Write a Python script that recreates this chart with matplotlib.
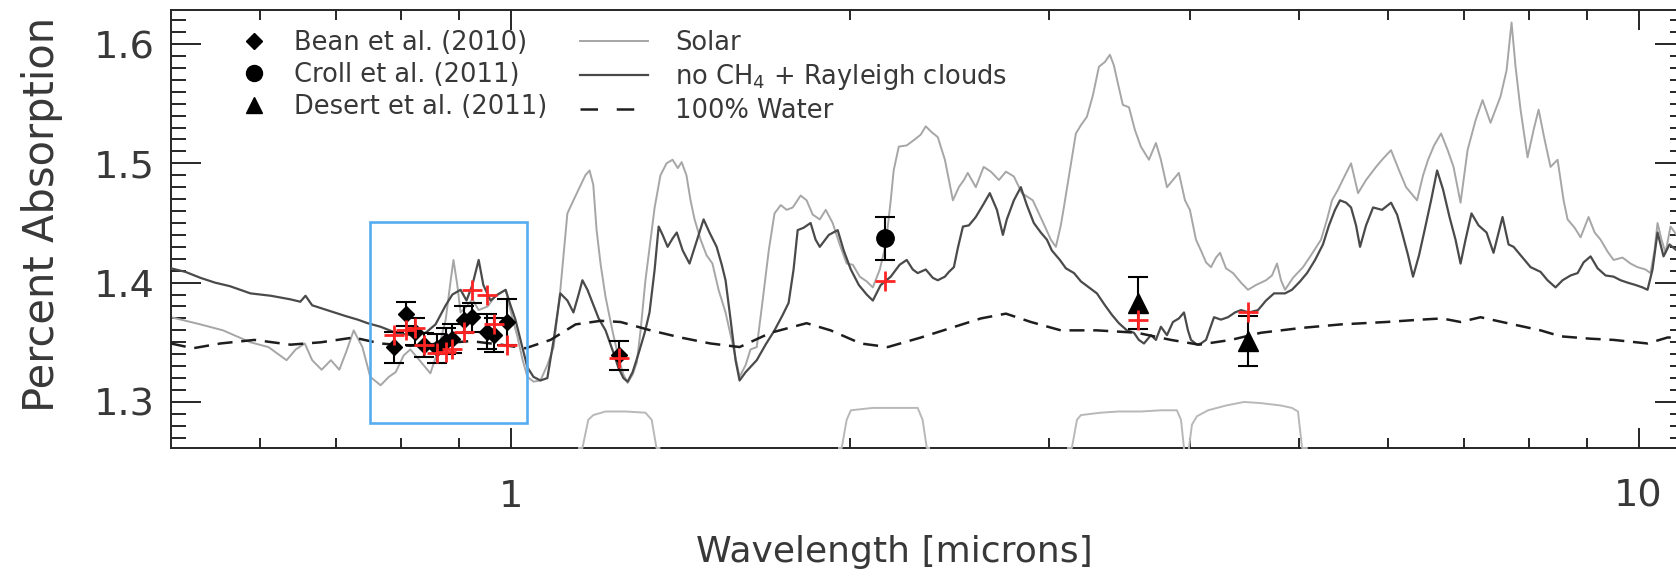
import matplotlib
matplotlib.use("Agg")
import matplotlib.pyplot as plt
from matplotlib.lines import Line2D
from matplotlib.patches import Rectangle
from matplotlib.ticker import (FixedLocator, FixedFormatter, MultipleLocator,
                               NullFormatter, FormatStrFormatter)

plt.rcParams['font.family'] = ['DejaVu Sans']

# --- model spectra: wavelength [microns] vs percent absorption ---
solar_wl = [0.500, 0.531, 0.556, 0.588, 0.610, 0.633, 0.645, 0.657, 0.667, 0.680,
            0.693, 0.705, 0.715, 0.726, 0.739, 0.751, 0.767, 0.780, 0.791, 0.804,
            0.815, 0.832, 0.849, 0.863, 0.876, 0.885, 0.890, 0.897, 0.903, 0.916,
            0.925, 0.937, 0.954, 0.970, 0.990, 1.002, 1.014, 1.025, 1.035, 1.048,
            1.063, 1.078, 1.092, 1.107, 1.123, 1.137, 1.149, 1.165, 1.175, 1.184,
            1.192, 1.202, 1.214, 1.231, 1.246, 1.259, 1.270, 1.283, 1.294, 1.304,
            1.317, 1.331, 1.342, 1.358, 1.375, 1.392, 1.407, 1.418, 1.432, 1.444,
            1.456, 1.474, 1.492, 1.510, 1.529, 1.551, 1.574, 1.596, 1.616, 1.632,
            1.653, 1.673, 1.694, 1.714, 1.736, 1.757, 1.779, 1.808, 1.830, 1.853,
            1.880, 1.903, 1.930, 1.958, 1.986, 2.011, 2.040, 2.069, 2.095, 2.125,
            2.151, 2.173, 2.186, 2.209, 2.245, 2.282, 2.310, 2.334, 2.363, 2.392,
            2.427, 2.447, 2.467, 2.497, 2.523, 2.543, 2.585, 2.627, 2.666, 2.710,
            2.749, 2.794, 2.840, 2.904, 2.977, 3.013, 3.044, 3.075, 3.094, 3.132,
            3.171, 3.204, 3.243, 3.283, 3.324, 3.365, 3.399, 3.427, 3.455, 3.490,
            3.534, 3.577, 3.621, 3.681, 3.734, 3.772, 3.819, 3.866, 3.913, 3.962,
            4.002, 4.052, 4.093, 4.136, 4.178, 4.221, 4.256, 4.308, 4.370, 4.442,
            4.506, 4.580, 4.675, 4.732, 4.781, 4.820, 4.860, 4.939, 5.042, 5.125,
            5.230, 5.295, 5.349, 5.415, 5.493, 5.561, 5.641, 5.734, 5.852, 5.937,
            6.034, 6.134, 6.222, 6.363, 6.442, 6.508, 6.588, 6.683, 6.774, 6.855,
            6.954, 7.054, 7.170, 7.273, 7.393, 7.545, 7.639, 7.717, 7.780, 7.860,
            7.973, 8.072, 8.155, 8.255, 8.356, 8.477, 8.582, 8.652, 8.777, 8.885,
            9.031, 9.143, 9.255, 9.388, 9.504, 9.679, 9.838, 9.979, 10.144, 10.248,
            10.332, 10.396, 10.481, 10.567, 10.675, 10.81]
solar_abs = [1.371, 1.365, 1.360, 1.350, 1.346, 1.335, 1.344, 1.349, 1.335, 1.327,
             1.335, 1.327, 1.342, 1.360, 1.346, 1.321, 1.314, 1.321, 1.325, 1.339,
             1.344, 1.334, 1.324, 1.344, 1.369, 1.402, 1.419, 1.398, 1.375, 1.381,
             1.386, 1.377, 1.380, 1.389, 1.394, 1.373, 1.355, 1.335, 1.321, 1.317,
             1.318, 1.331, 1.346, 1.394, 1.458, 1.469, 1.478, 1.490, 1.494, 1.482,
             1.444, 1.415, 1.388, 1.360, 1.338, 1.323, 1.316, 1.323, 1.333, 1.360,
             1.402, 1.436, 1.463, 1.490, 1.500, 1.503, 1.496, 1.501, 1.490, 1.469,
             1.453, 1.436, 1.423, 1.416, 1.394, 1.375, 1.348, 1.321, 1.331, 1.344,
             1.346, 1.385, 1.427, 1.458, 1.465, 1.461, 1.463, 1.473, 1.469, 1.457,
             1.453, 1.461, 1.450, 1.432, 1.416, 1.415, 1.405, 1.401, 1.396, 1.411,
             1.432, 1.469, 1.494, 1.514, 1.515, 1.520, 1.524, 1.531, 1.526, 1.522,
             1.503, 1.486, 1.469, 1.480, 1.486, 1.492, 1.480, 1.497, 1.493, 1.486,
             1.493, 1.489, 1.475, 1.469, 1.447, 1.436, 1.430, 1.448, 1.463, 1.494,
             1.525, 1.532, 1.539, 1.557, 1.581, 1.585, 1.591, 1.582, 1.567, 1.549,
             1.547, 1.528, 1.514, 1.503, 1.517, 1.503, 1.480, 1.486, 1.492, 1.469,
             1.461, 1.436, 1.427, 1.417, 1.413, 1.421, 1.425, 1.412, 1.408, 1.400,
             1.394, 1.398, 1.402, 1.406, 1.416, 1.402, 1.394, 1.404, 1.413, 1.423,
             1.436, 1.453, 1.469, 1.478, 1.490, 1.500, 1.475, 1.486, 1.497, 1.504,
             1.511, 1.494, 1.480, 1.469, 1.490, 1.503, 1.515, 1.525, 1.511, 1.497,
             1.467, 1.511, 1.536, 1.553, 1.534, 1.556, 1.578, 1.618, 1.581, 1.545,
             1.505, 1.528, 1.545, 1.520, 1.497, 1.503, 1.469, 1.453, 1.446, 1.438,
             1.455, 1.442, 1.436, 1.426, 1.419, 1.421, 1.416, 1.413, 1.411, 1.408,
             1.427, 1.450, 1.436, 1.425, 1.447, 1.440]

noch4_wl = [0.500, 0.515, 0.531, 0.547, 0.564, 0.588, 0.613, 0.638, 0.651, 0.658,
            0.667, 0.693, 0.714, 0.732, 0.747, 0.767, 0.791, 0.815, 0.841, 0.858,
            0.876, 0.888, 0.903, 0.914, 0.925, 0.937, 0.946, 0.960, 0.974, 0.990,
            1.000, 1.010, 1.023, 1.035, 1.048, 1.063, 1.078, 1.092, 1.107, 1.123,
            1.137, 1.149, 1.158, 1.170, 1.180, 1.197, 1.214, 1.234, 1.246, 1.259,
            1.270, 1.283, 1.299, 1.315, 1.328, 1.342, 1.353, 1.364, 1.378, 1.392,
            1.404, 1.421, 1.441, 1.459, 1.483, 1.501, 1.523, 1.539, 1.551, 1.567,
            1.583, 1.596, 1.616, 1.653, 1.683, 1.714, 1.743, 1.764, 1.782, 1.797,
            1.819, 1.845, 1.864, 1.880, 1.915, 1.950, 1.974, 2.003, 2.036, 2.069,
            2.095, 2.129, 2.173, 2.213, 2.245, 2.273, 2.296, 2.334, 2.368, 2.392,
            2.427, 2.447, 2.472, 2.492, 2.518, 2.549, 2.585, 2.623, 2.660, 2.699,
            2.732, 2.754, 2.794, 2.834, 2.869, 2.910, 2.952, 2.989, 3.019, 3.069,
            3.107, 3.159, 3.204, 3.256, 3.310, 3.365, 3.413, 3.462, 3.519, 3.570,
            3.606, 3.644, 3.696, 3.734, 3.772, 3.819, 3.866, 3.913, 3.954, 3.986,
            4.011, 4.060, 4.093, 4.136, 4.204, 4.264, 4.325, 4.388, 4.442, 4.515,
            4.599, 4.675, 4.752, 4.860, 4.929, 5.011, 5.083, 5.167, 5.251, 5.316,
            5.382, 5.437, 5.505, 5.561, 5.618, 5.664, 5.734, 5.817, 5.924, 6.034,
            6.109, 6.171, 6.247, 6.311, 6.389, 6.455, 6.548, 6.629, 6.710, 6.799,
            6.883, 6.954, 7.025, 7.111, 7.214, 7.333, 7.438, 7.576, 7.670, 7.749,
            7.860, 8.022, 8.188, 8.305, 8.442, 8.564, 8.705, 8.831, 8.940, 9.068,
            9.199, 9.350, 9.504, 9.641, 9.779, 9.941, 10.082, 10.186, 10.290, 10.396,
            10.524, 10.653, 10.81]
noch4_abs = [1.412, 1.409, 1.404, 1.400, 1.397, 1.391, 1.389, 1.386, 1.384, 1.389,
             1.381, 1.376, 1.372, 1.369, 1.366, 1.363, 1.358, 1.356, 1.358, 1.365,
             1.381, 1.390, 1.394, 1.385, 1.398, 1.419, 1.398, 1.385, 1.390, 1.394,
             1.381, 1.369, 1.348, 1.329, 1.321, 1.318, 1.320, 1.352, 1.391, 1.385,
             1.375, 1.390, 1.402, 1.394, 1.385, 1.370, 1.360, 1.341, 1.329, 1.320,
             1.317, 1.325, 1.341, 1.358, 1.375, 1.411, 1.447, 1.440, 1.430, 1.437,
             1.442, 1.427, 1.416, 1.432, 1.453, 1.442, 1.430, 1.415, 1.402, 1.369,
             1.335, 1.318, 1.325, 1.335, 1.348, 1.360, 1.373, 1.383, 1.411, 1.444,
             1.446, 1.450, 1.436, 1.430, 1.440, 1.444, 1.427, 1.411, 1.398, 1.390,
             1.385, 1.398, 1.405, 1.415, 1.419, 1.411, 1.408, 1.411, 1.404, 1.402,
             1.405, 1.409, 1.413, 1.429, 1.447, 1.448, 1.455, 1.465, 1.475, 1.461,
             1.440, 1.453, 1.469, 1.480, 1.465, 1.450, 1.442, 1.436, 1.427, 1.419,
             1.412, 1.408, 1.401, 1.396, 1.391, 1.381, 1.373, 1.366, 1.360, 1.358,
             1.352, 1.349, 1.356, 1.352, 1.363, 1.356, 1.367, 1.370, 1.375, 1.360,
             1.352, 1.348, 1.349, 1.352, 1.371, 1.369, 1.371, 1.375, 1.377, 1.375,
             1.377, 1.385, 1.391, 1.391, 1.394, 1.401, 1.408, 1.419, 1.432, 1.448,
             1.461, 1.469, 1.467, 1.463, 1.448, 1.430, 1.448, 1.463, 1.461, 1.467,
             1.457, 1.442, 1.423, 1.405, 1.423, 1.442, 1.469, 1.494, 1.478, 1.455,
             1.436, 1.416, 1.436, 1.458, 1.448, 1.442, 1.425, 1.455, 1.432, 1.430,
             1.423, 1.413, 1.409, 1.402, 1.396, 1.402, 1.406, 1.408, 1.417, 1.422,
             1.412, 1.406, 1.405, 1.402, 1.400, 1.398, 1.396, 1.394, 1.411, 1.442,
             1.422, 1.432, 1.427]

water_wl = [0.500, 0.523, 0.553, 0.593, 0.638, 0.679, 0.726, 0.767, 0.815, 0.867,
            0.922, 0.980, 1.031, 1.085, 1.142, 1.202, 1.252, 1.331, 1.415, 1.504,
            1.596, 1.701, 1.830, 1.922, 2.044, 2.160, 2.311, 2.457, 2.612, 2.749,
            2.893, 3.075, 3.310, 3.592, 3.850, 4.077, 4.352, 4.627, 5.021, 5.448,
            5.973, 6.415, 6.696, 6.954, 7.243, 7.654, 8.188, 8.529, 9.068, 9.504,
            10.186, 10.610, 10.81]
water_abs = [1.349, 1.345, 1.349, 1.352, 1.348, 1.350, 1.354, 1.349, 1.347, 1.349,
             1.351, 1.348, 1.345, 1.352, 1.365, 1.368, 1.367, 1.360, 1.354, 1.349,
             1.346, 1.358, 1.366, 1.360, 1.349, 1.346, 1.354, 1.362, 1.370, 1.374,
             1.367, 1.360, 1.360, 1.358, 1.352, 1.348, 1.352, 1.358, 1.362, 1.365,
             1.367, 1.369, 1.370, 1.367, 1.371, 1.366, 1.360, 1.355, 1.353, 1.352,
             1.349, 1.354, 1.354]

# --- filter bandpasses, drawn in the same y units along the bottom ---
j_wl = [1.150, 1.158, 1.172, 1.184, 1.214, 1.264, 1.317, 1.334, 1.347, 1.355]
j_abs = [1.2614, 1.2614, 1.285, 1.289, 1.292, 1.292, 1.291, 1.285, 1.2614, 1.2614]
ks_wl = [1.955, 1.966, 1.986, 2.003, 2.095, 2.195, 2.296, 2.319, 2.339, 2.350]
ks_abs = [1.2614, 1.2614, 1.285, 1.293, 1.295, 1.295, 1.295, 1.285, 1.2614, 1.2614]
ch1_wl = [3.120, 3.145, 3.178, 3.204, 3.337, 3.462, 3.621, 3.772, 3.897, 3.930, 3.954]
ch1_abs = [1.2614, 1.2614, 1.285, 1.289, 1.291, 1.292, 1.292, 1.293, 1.293, 1.285, 1.2614]
ch2_wl = [3.994, 4.019, 4.060, 4.153, 4.308, 4.470, 4.627, 4.820, 4.929, 4.990, 5.032, 5.080]
ch2_abs = [1.2614, 1.281, 1.288, 1.293, 1.297, 1.300, 1.299, 1.297, 1.295, 1.292, 1.2614, 1.2614]

# --- observations ---
bean_wl = [0.788, 0.808, 0.823, 0.838, 0.861, 0.876, 0.888, 0.909, 0.925, 0.953, 0.966, 0.993]
bean_abs = [1.346, 1.374, 1.359, 1.348, 1.345, 1.351, 1.353, 1.369, 1.371, 1.359, 1.356, 1.367]
bean_err = [0.013, 0.010, 0.011, 0.010, 0.012, 0.011, 0.012, 0.011, 0.012, 0.015, 0.014, 0.019]
jband_wl = [1.249]
jband_abs = [1.339]
jband_err = [0.012]
croll_wl = [2.149]
croll_abs = [1.437]
croll_err = [0.018]
desert_wl = [3.603, 4.502]
desert_abs = [1.383, 1.351]
desert_err = [0.022, 0.021]

# model binned over each observed band
model_wl = bean_wl + jband_wl + croll_wl + desert_wl
model_abs = [1.356, 1.360, 1.362, 1.348, 1.341, 1.342, 1.344, 1.359, 1.394, 1.390, 1.365, 1.348,
             1.337, 1.401, 1.369, 1.375]

# highlighted optical region
box_wl = [0.750, 1.035]
box_abs = [1.2824, 1.4511]

SOLAR_C = '#a6a6a6'
DARK_C = '#4a4a4a'
FILTER_C = '#b8b8b8'
TEXT_C = '#383838'
AXIS_C = '#262626'

fig = plt.figure(figsize=(16.76, 5.76), dpi=100)
ax = fig.add_axes([171 / 1676, 128 / 576, 1514.2 / 1676, 438 / 576])

ax.plot(solar_wl, solar_abs, color=SOLAR_C, lw=1.4, zorder=2)
ax.plot(noch4_wl, noch4_abs, color=DARK_C, lw=1.6, zorder=3)
ax.plot(water_wl, water_abs, color='#1e1e1e', lw=1.8, ls=(0, (6, 3.5)), zorder=3)

for wl, tr in [(j_wl, j_abs), (ks_wl, ks_abs), (ch1_wl, ch1_abs), (ch2_wl, ch2_abs)]:
    ax.plot(wl, tr, color=FILTER_C, lw=1.4, zorder=3, clip_on=False)

eb = dict(color='k', ecolor='k', elinewidth=1.5, capsize=7.2, capthick=1.5, ls='none', zorder=5)
ax.errorbar(bean_wl, bean_abs, yerr=bean_err, fmt='D', ms=8.5, **eb)
ax.errorbar(jband_wl, jband_abs, yerr=jband_err, fmt='D', ms=8.5, **eb)
ax.errorbar(croll_wl, croll_abs, yerr=croll_err, fmt='o', ms=12.5, **eb)
ax.errorbar(desert_wl, desert_abs, yerr=desert_err, fmt='^', ms=14, **eb)

ax.plot(model_wl, model_abs, ls='none', marker='+', color='#ff2424', ms=14, mew=2.0, zorder=6)

ax.add_patch(Rectangle((box_wl[0], box_abs[0]), box_wl[1] - box_wl[0], box_abs[1] - box_abs[0],
                       fill=False, ec='#55adf0', lw=1.9, zorder=7))

ax.set_xscale('log')
ax.set_xlim(0.5, 11.0)
ax.set_ylim(1.2614, 1.6285)

ax.xaxis.set_major_locator(FixedLocator([1, 10]))
ax.xaxis.set_major_formatter(FixedFormatter(['1', '10']))
ax.xaxis.set_minor_locator(FixedLocator([0.6, 0.7, 0.8, 0.9, 2, 3, 4, 5, 6, 7, 8, 9]))
ax.xaxis.set_minor_formatter(NullFormatter())
ax.yaxis.set_major_locator(FixedLocator([1.3, 1.4, 1.5, 1.6]))
ax.yaxis.set_major_formatter(FormatStrFormatter('%.1f'))
ax.yaxis.set_minor_locator(MultipleLocator(0.01))

ax.tick_params(which='both', direction='in', top=True, right=True, color=AXIS_C,
               labelcolor=TEXT_C, labelsize=27.5, width=1.4)
ax.tick_params(axis='x', which='major', length=14.4, pad=22)
ax.tick_params(axis='x', which='minor', length=7.2)
ax.tick_params(axis='y', which='major', length=21.6, pad=11.5)
ax.tick_params(axis='y', which='minor', length=10.8)
for s in ax.spines.values():
    s.set_linewidth(1.4)
    s.set_color(AXIS_C)

fig.text(42 / 1676, 1 - 214 / 576, 'Percent Absorption', rotation=90,
         ha='center', va='center', fontsize=30, color=TEXT_C)
fig.text(894 / 1676, 14 / 576, 'Wavelength [microns]', ha='center', va='baseline',
         fontsize=26, color=TEXT_C)

# two-column key: observations on the left, models on the right
obs_handles = [Line2D([], [], ls='none', marker='D', color='k', ms=8.5),
               Line2D([], [], ls='none', marker='o', color='k', ms=11.5),
               Line2D([], [], ls='none', marker='^', color='k', ms=12)]
obs_labels = ['Bean et al. (2010)', 'Croll et al. (2011)', 'Desert et al. (2011)']
mod_handles = [Line2D([], [], color=SOLAR_C, lw=1.4),
               Line2D([], [], color=DARK_C, lw=1.6),
               Line2D([], [], color='#1e1e1e', lw=1.8, ls=(0, (7, 7.5)))]
mod_labels = ['Solar', 'no CH$_4$ + Rayleigh clouds', '100% Water']

key = dict(loc='upper left', frameon=False, fontsize=18.5, labelspacing=0.24,
           borderpad=0, borderaxespad=0, labelcolor=TEXT_C)
leg1 = ax.legend(obs_handles, obs_labels, bbox_to_anchor=(0.0466, 0.955),
                 handlelength=1.0, handletextpad=1.03, **key)
ax.add_artist(leg1)
ax.legend(mod_handles, mod_labels, bbox_to_anchor=(0.2701, 0.955),
          handlelength=2.65, handletextpad=1.05, **key)

fig.savefig('out.png', dpi=100)
